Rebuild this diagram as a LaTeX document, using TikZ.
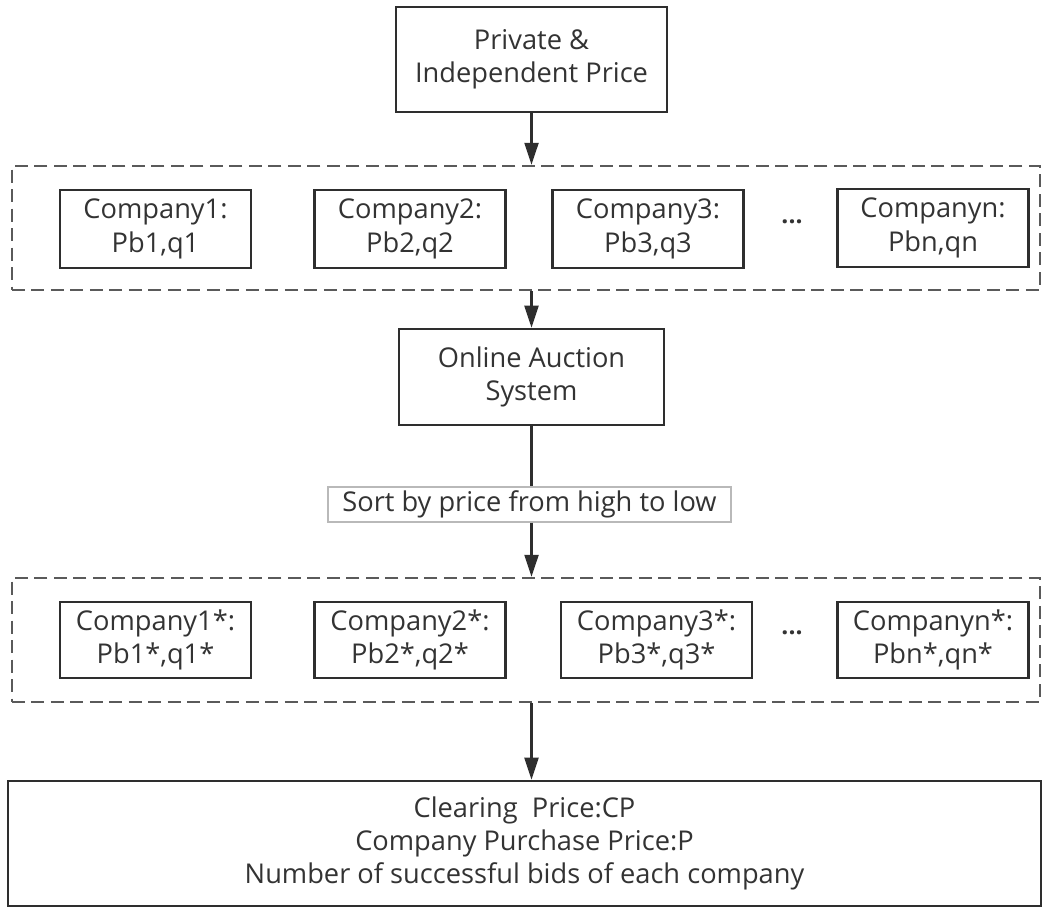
\documentclass[tikz,border=0pt]{standalone}
\usepackage{fontspec}
\setmainfont{Open Sans}
\usetikzlibrary{arrows.meta}
\definecolor{boxline}{HTML}{2E2E2E}
\definecolor{dashline}{HTML}{5A5A5A}
\definecolor{txt}{HTML}{333333}
\newcommand{\px}[1]{#1*0.02cm}
\tikzset{
  box/.style={draw=boxline,line width=1.5pt,fill=white,align=center,
    inner sep=0pt,text=txt,font=\fontsize{15.5}{19}\selectfont},
  group/.style={draw=dashline,line width=1.4pt,
    dash pattern=on 2.6mm off 1.3mm,inner sep=0pt},
  bidbox/.style={box,minimum width=\px{191},minimum height=\px{78}},
  wire/.style={draw=boxline,line width=1.3pt},
  flow/.style={wire,-{Triangle[length=4.4mm,width=2.8mm]}},
  dots/.style={text=txt,font=\fontsize{14}{19}\selectfont\bfseries}
}
\begin{document}
\begin{tikzpicture}[x=0.02cm,y=-0.02cm]
  \useasboundingbox (0,0) rectangle (1043,906);
  % Price source
  \node[box,minimum width=\px{271},minimum height=\px{105}] (priv)
    at (531.5,59.5) {Private \&\\Independent Price};
  % Bids
  \node[group,minimum width=\px{1028},minimum height=\px{124}] (bids)
    at (526,228) {};
  \node[bidbox] (c1) at (155.5,229) {Company1:\\Pb1,q1};
  \node[bidbox] (c2) at (410,229) {Company2:\\Pb2,q2};
  \node[bidbox] (c3) at (648,229) {Company3:\\Pb3,q3};
  \node[dots] (cdots) at (792,222) {...};
  \node[bidbox] (cn) at (933,228) {Companyn:\\Pbn,qn};
  % Auction system
  \node[box,minimum width=\px{265},minimum height=\px{96}] (online)
    at (531.5,377) {Online Auction\\System};
  \node[draw=gray!55,line width=0.6pt,fill=white,text=txt,inner sep=0pt,
    minimum width=\px{403},minimum height=\px{35},
    font=\fontsize{15.5}{19}\selectfont] (sortlbl)
    at (529.5,504.5) {Sort by price from high to low};
  % Sorted bids
  \node[group,minimum width=\px{1028},minimum height=\px{124}] (sorted)
    at (526,640) {};
  \node[bidbox,minimum height=\px{76}] (s1) at (155.5,640) {Company1*:\\Pb1*,q1*};
  \node[bidbox,minimum height=\px{76}] (s2) at (410,640) {Company2*:\\Pb2*,q2*};
  \node[bidbox,minimum height=\px{76}] (s3) at (656.5,640) {Company3*:\\Pb3*,q3*};
  \node[dots] (sdots) at (792,633) {...};
  \node[bidbox,minimum height=\px{76}] (sn) at (933,640) {Companyn*:\\Pbn*,qn*};
  % Result
  \node[box,minimum width=\px{1033},minimum height=\px{125}] (result)
    at (524.5,843.5) {Clearing~ Price:CP\\Company Purchase Price:P\\
      Number of successful bids of each company};
  % Wires
  \draw[flow] (priv.south) -- (priv.south |- bids.north);
  \draw[flow] (online.north |- bids.south) -- (online.north);
  \draw[wire] (online.south) -- (online.south |- sortlbl.north);
  \draw[flow] (online.south |- sortlbl.south) -- (online.south |- sorted.north);
  \draw[flow] (online.south |- sorted.south) -- (online.south |- result.north);
\end{tikzpicture}
\end{document}
